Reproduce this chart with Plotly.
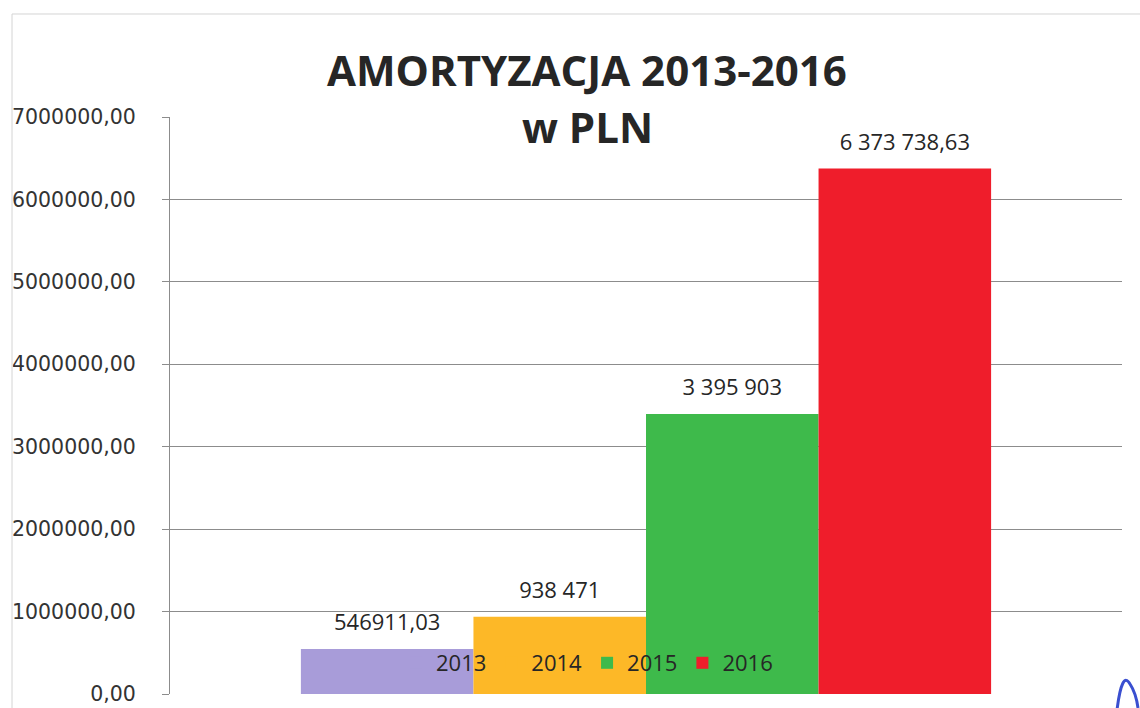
import plotly.graph_objects as go

# ---- data ----
group_label = [""]
years = ["2013", "2014", "2015", "2016"]
values = [546911.03, 938471, 3395903, 6373738.63]
value_labels = ["546911,03", "938 471", "3 395 903", "6 373 738,63"]
colors = ["#A89CD9", "#FDB827", "#3EBA4B", "#EF1D2B"]
y_tick_vals = [0, 1000000, 2000000, 3000000, 4000000, 5000000, 6000000, 7000000]
y_tick_text = ["0,00", "1000000,00", "2000000,00", "3000000,00",
               "4000000,00", "5000000,00", "6000000,00", "7000000,00"]
title_line1 = "AMORTYZACJA 2013-2016"
title_line2 = "w PLN"

W, H = 1140, 708
L, R, T, B = 170, 18, 117, 14
pw, ph = W - L - R, H - T - B


def px_x(x):
    return (x - L) / pw


def px_y(y):
    return (H - B - y) / ph


fig = go.Figure()
for yr, v, c in zip(years, values, colors):
    fig.add_trace(go.Bar(x=group_label, y=[v], name=yr, marker_color=c,
                         marker_line_width=0, offsetgroup=yr))
for yr, v, lab in zip(years, values, value_labels):
    fig.add_trace(go.Scatter(x=group_label, y=[v], mode="markers+text", text=[lab],
                             textposition="top center", offsetgroup=yr,
                             marker=dict(size=20, opacity=0),
                             textfont=dict(family="Open Sans", size=22, color="#262626"),
                             showlegend=False, hoverinfo="skip"))

fig.update_layout(
    width=W, height=H,
    margin=dict(l=L, r=R, t=T, b=B, autoexpand=False),
    paper_bgcolor="white", plot_bgcolor="white",
    barmode="group", bargap=0.275, bargroupgap=0,
    scattermode="group", scattergap=0.275,
    showlegend=True,
    legend=dict(orientation="h", x=px_x(396), y=px_y(663), xanchor="left", yanchor="middle",
                bgcolor="rgba(0,0,0,0)", font=dict(family="Open Sans", size=22, color="#262626"),
                itemclick=False, traceorder="normal"),
    xaxis=dict(showticklabels=False, showgrid=False, zeroline=False, showline=False,
               ticks="", range=[-0.5, 0.5], automargin=False),
    yaxis=dict(range=[0, 7000000], tickvals=y_tick_vals, ticktext=y_tick_text,
               showgrid=True, gridcolor="#8c8c8c", gridwidth=1, zeroline=False,
               showline=True, linecolor="#8c8c8c", linewidth=1, automargin=False,
               ticks="outside", ticklen=7, tickcolor="#8c8c8c", ticklabelstandoff=22,
               tickfont=dict(family="DejaVu Sans", size=20.5, color="#333333")),
    annotations=[
        dict(text="<b>" + title_line1 + "</b>", xref="paper", yref="paper",
             x=px_x(587), y=px_y(69), xanchor="center", yanchor="middle", showarrow=False,
             font=dict(family="Open Sans", size=42, color="#262626")),
        dict(text="<b>" + title_line2 + "</b>", xref="paper", yref="paper",
             x=px_x(587), y=px_y(127), xanchor="center", yanchor="middle", showarrow=False,
             font=dict(family="Open Sans", size=42, color="#262626")),
    ],
    shapes=[
        dict(type="path", xref="paper", yref="paper",
             path="M %f %f L %f %f L %f %f" % (px_x(12), px_y(720), px_x(12), px_y(14), px_x(1145), px_y(14)),
             line=dict(color="#d4d4d4", width=1)),
        dict(type="path", xref="paper", yref="paper",
             path="M %f %f Q %f %f %f %f Q %f %f %f %f" % (
                 px_x(1117), px_y(710), px_x(1122), px_y(670), px_x(1130), px_y(684),
                 px_x(1136), px_y(693), px_x(1138), px_y(708)),
             line=dict(color="#3a4fd0", width=3)),
    ],
)

fig.write_html("out.html", config={"displayModeBar": False})

# remove default page margin so the figure sits at the window's origin
with open("out.html", "r", encoding="utf-8") as f:
    html = f.read()
html = html.replace("<head>", "<head><style>html,body{margin:0;padding:0;overflow:hidden;}</style>", 1)
with open("out.html", "w", encoding="utf-8") as f:
    f.write(html)
